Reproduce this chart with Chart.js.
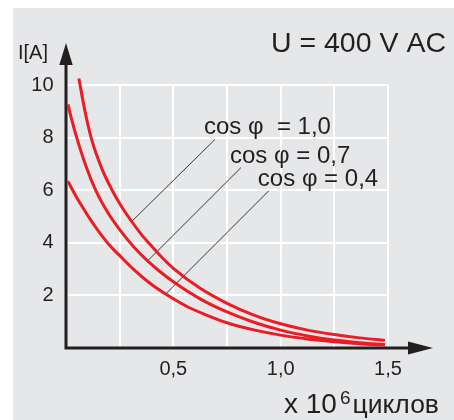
<!DOCTYPE html>
<html><head><meta charset="utf-8">
<style>html,body{margin:0;padding:0;background:#fff;}canvas{display:block;}</style>
<script src="https://cdn.jsdelivr.net/npm/chart.js@4.4.1/dist/chart.umd.min.js"></script>
</head><body>
<canvas id="c" width="454" height="420"></canvas>
<script>
// ---- data ----
const curve1X = [0.06, 0.0885, 0.117, 0.166, 0.215, 0.26, 0.306, 0.348, 0.39, 0.445, 0.5, 0.625, 0.75, 0.875, 1.0, 1.125, 1.25, 1.368, 1.486];
const curve1Y = [10.25, 9.0, 8.0, 6.84, 6.0, 5.36, 4.81, 4.35, 3.95, 3.46, 3.03, 2.27, 1.7, 1.25, 0.92, 0.68, 0.51, 0.385, 0.29];
const curve2X = [0.009, 0.0295, 0.05, 0.094, 0.138, 0.194, 0.25, 0.315, 0.38, 0.44, 0.5, 0.625, 0.75, 0.875, 1.0, 1.125, 1.25, 1.368, 1.486];
const curve2Y = [9.26, 8.6, 8.0, 6.89, 6.0, 5.16, 4.5, 3.85, 3.31, 2.89, 2.52, 1.87, 1.37, 0.98, 0.68, 0.46, 0.3, 0.2, 0.13];
const curve3X = [0.009, 0.0425, 0.076, 0.117, 0.158, 0.203, 0.248, 0.32, 0.391, 0.464, 0.5, 0.57, 0.64, 0.75, 0.875, 1.0, 1.125, 1.25, 1.368, 1.486];
const curve3Y = [6.34, 5.83, 5.37, 4.84, 4.37, 3.91, 3.53, 2.95, 2.46, 2.05, 1.87, 1.55, 1.3, 0.96, 0.69, 0.49, 0.345, 0.24, 0.165, 0.11];
const seriesLabels = ['cos φ  = 1,0', 'cos φ = 0,7', 'cos φ = 0,4'];
const leader1X = [0.306, 0.694], leader1Y = [4.81, 7.93];
const leader2X = [0.380, 0.815], leader2Y = [3.31, 6.86];
const leader3X = [0.464, 0.945], leader3Y = [2.05, 5.98];
const xTickValues = [0.5, 1.0, 1.5];
const xTickLabels = ['0,5', '1,0', '1,5'];
const yTickValues = [2, 4, 6, 8, 10];
const yTickLabels = ['2', '4', '6', '8', '10'];
const chartTitle = 'U = 400 V AC';
const yAxisTitle = 'I[A]';
const xAxisTitle = ['x 10', '6', 'циклов'];

// ---- style ----
const RED = '#ec1c24';
const INK = '#231f20';
const GRAY = '#e6e7e8';
const FONT = '"Liberation Sans", Arial, Helvetica, sans-serif';

const pts = (xs, ys) => xs.map((x, i) => ({x: x, y: ys[i]}));
const curveDs = (xs, ys) => ({data: pts(xs, ys), borderColor: RED, borderWidth: 3, pointRadius: 0,
  cubicInterpolationMode: 'monotone', clip: false, fill: false});
const leaderDs = (xs, ys) => ({data: pts(xs, ys), borderColor: '#3a3a3a', borderWidth: 1, pointRadius: 0,
  fill: false, clip: false});

const decor = {
  id: 'decor',
  beforeDraw(chart) {
    const ctx = chart.ctx;
    ctx.save();
    ctx.fillStyle = '#ffffff';
    ctx.fillRect(0, 0, chart.width, chart.height);
    ctx.fillStyle = GRAY;
    ctx.fillRect(13, 8, chart.width - 13, chart.height - 8);
    ctx.restore();
  },
  beforeDatasetsDraw(chart) {
    const ctx = chart.ctx, xs = chart.scales.x, ys = chart.scales.y;
    const x0 = xs.getPixelForValue(0), y0 = ys.getPixelForValue(0);
    const ca = chart.chartArea;
    const tipY = ca.top - 42, tipX = ca.right + 45;
    ctx.save();
    ctx.strokeStyle = INK; ctx.fillStyle = INK; ctx.lineWidth = 3;
    ctx.beginPath();
    ctx.moveTo(x0, y0 + 1.5); ctx.lineTo(x0, tipY + 20);
    ctx.moveTo(x0 - 1.5, y0); ctx.lineTo(tipX - 20, y0);
    ctx.stroke();
    ctx.beginPath();
    ctx.moveTo(x0, tipY); ctx.lineTo(x0 - 6.7, tipY + 22); ctx.lineTo(x0 + 6.7, tipY + 22); ctx.closePath();
    ctx.fill();
    ctx.beginPath();
    ctx.moveTo(tipX, y0); ctx.lineTo(tipX - 25, y0 - 6.5); ctx.lineTo(tipX - 25, y0 + 6.5); ctx.closePath();
    ctx.fill();
    ctx.restore();
  },
  afterDatasetsDraw(chart) {
    const ctx = chart.ctx, xs = chart.scales.x, ys = chart.scales.y;
    ctx.save();
    ctx.fillStyle = INK;
    ctx.textBaseline = 'alphabetic';
    // curve labels anchored at the upper end of the leader lines
    ctx.font = '24px ' + FONT;
    ctx.textAlign = 'left';
    const tops = [[leader1X[1], leader1Y[1]], [leader2X[1], leader2Y[1]], [leader3X[1], leader3Y[1]]];
    tops.forEach((p, i) => {
      ctx.fillText(seriesLabels[i], xs.getPixelForValue(p[0]) - 11, ys.getPixelForValue(p[1]) - 5);
    });
    // title
    ctx.font = '28.5px ' + FONT;
    ctx.textAlign = 'right';
    ctx.fillText(chartTitle, 446, 52);
    // y axis title
    ctx.font = '20px ' + FONT;
    ctx.textAlign = 'left';
    ctx.fillText(yAxisTitle, 18, 58.5);
    // x axis title with superscript
    const base = 412.5;
    ctx.font = '28px ' + FONT; ctx.fillText(xAxisTitle[0], 284, base);
    ctx.font = '19px ' + FONT; ctx.fillText(xAxisTitle[1], 340, base - 9);
    ctx.font = '26.5px ' + FONT; ctx.fillText(xAxisTitle[2], 352.5, base);
    ctx.restore();
  }
};

new Chart(document.getElementById('c'), {
  type: 'line',
  data: {
    datasets: [
      curveDs(curve1X, curve1Y),
      curveDs(curve2X, curve2Y),
      curveDs(curve3X, curve3Y),
      leaderDs(leader1X, leader1Y),
      leaderDs(leader2X, leader2Y),
      leaderDs(leader3X, leader3Y)
    ]
  },
  options: {
    responsive: false,
    animation: false,
    devicePixelRatio: 1,
    layout: {padding: {left: 0, right: 66, top: 85, bottom: 0}},
    plugins: {legend: {display: false}, tooltip: {enabled: false}},
    scales: {
      x: {
        type: 'linear', min: 0, max: 1.5,
        afterFit: s => { s.height = 72; },
        grid: {color: '#ffffff', lineWidth: 2, drawTicks: false},
        border: {display: false},
        ticks: {
          stepSize: 0.25, autoSkip: false, maxRotation: 0, padding: 9,
          color: INK, font: {family: FONT, size: 20},
          callback: v => { const i = xTickValues.findIndex(t => Math.abs(t - v) < 1e-9); return i >= 0 ? xTickLabels[i] : ''; }
        }
      },
      y: {
        type: 'linear', min: 0, max: 10,
        afterFit: s => { s.width = 66; },
        grid: {color: '#ffffff', lineWidth: 2, drawTicks: false},
        border: {display: false},
        ticks: {
          stepSize: 2, autoSkip: false, padding: 12.5,
          color: INK, font: {family: FONT, size: 20},
          callback: v => { const i = yTickValues.indexOf(v); return i >= 0 ? yTickLabels[i] : ''; }
        }
      }
    }
  },
  plugins: [decor]
});
</script>
</body></html>
